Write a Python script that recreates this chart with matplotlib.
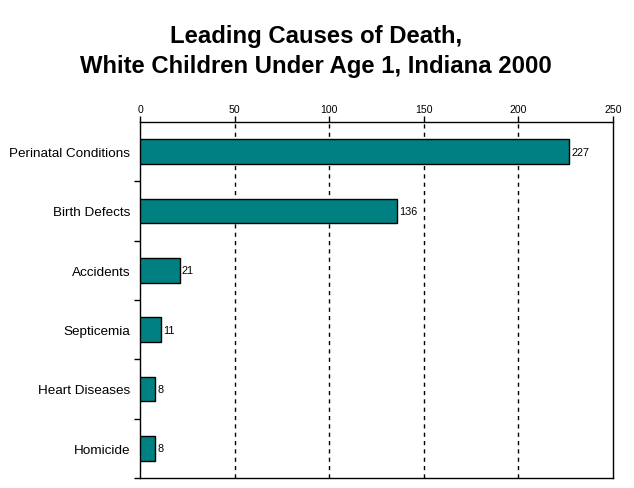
import matplotlib.pyplot as plt

# data
causes = ["Perinatal Conditions", "Birth Defects", "Accidents",
          "Septicemia", "Heart Diseases", "Homicide"]
deaths = [227, 136, 21, 11, 8, 8]
ticks = [0, 50, 100, 150, 200, 250]

plt.rcParams['font.family'] = ['Liberation Sans', 'DejaVu Sans']

fig = plt.figure(figsize=(6.34, 4.89), dpi=100)
ax = fig.add_axes([140 / 634, 1 - 479 / 489, 473 / 634, 356 / 489])

pos = list(range(len(causes)))
ax.barh(pos, deaths, height=0.42, color="#008080", edgecolor="black", linewidth=1, zorder=3)
for p, v in zip(pos, deaths):
    ax.text(v + 1.0, p, str(v), va="center", ha="left", fontsize=7.8)

ax.set_xlim(0, 250)
ax.set_ylim(len(causes) - 0.5, -0.5)
ax.xaxis.tick_top()
ax.set_xticks(ticks)
ax.set_xticklabels([str(t) for t in ticks], fontsize=7.6)
ax.tick_params(axis="x", length=4, width=1, pad=1.5)

# category labels, ticks between categories
ax.set_yticks([p + 0.5 for p in pos], minor=False)
ax.set_yticklabels([])
ax.set_yticks(pos, minor=True)
ax.set_yticklabels(causes, minor=True, fontsize=9.7)
ax.tick_params(axis="y", which="major", length=4, width=1)
ax.tick_params(axis="y", which="minor", length=0, pad=7)

for t in ticks[1:-1]:
    ax.axvline(t, color="black", linestyle=(0, (3, 3)), linewidth=1, zorder=1)

for s in ax.spines.values():
    s.set_linewidth(1)

fig.text(316 / 634, 1 - 36 / 489, "Leading Causes of Death,", ha="center", va="center",
         fontsize=17.2, fontweight="bold")
fig.text(316 / 634, 1 - 66 / 489, "White Children Under Age 1, Indiana 2000", ha="center",
         va="center", fontsize=17.2, fontweight="bold")

fig.savefig("out.png", dpi=100)
